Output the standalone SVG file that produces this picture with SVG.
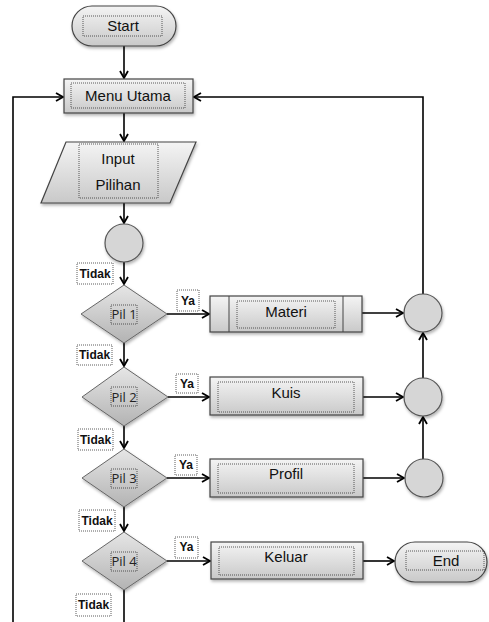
<svg xmlns="http://www.w3.org/2000/svg" width="489" height="622" viewBox="0 0 489 622">
<defs>
<linearGradient id="g" x1="0" y1="0" x2="0" y2="1"><stop offset="0" stop-color="#f4f4f4"/><stop offset="1" stop-color="#c9c9c9"/></linearGradient>
<linearGradient id="gd" x1="0" y1="0" x2="0" y2="1"><stop offset="0" stop-color="#e6e6e6"/><stop offset="1" stop-color="#b3b3b3"/></linearGradient>
<filter id="sh" x="-20%" y="-20%" width="140%" height="150%"><feDropShadow dx="1" dy="2" stdDeviation="1.5" flood-color="#000" flood-opacity="0.3"/></filter>
<marker id="ar" markerWidth="10" markerHeight="10" refX="8" refY="5" orient="auto" markerUnits="userSpaceOnUse"><path d="M1,1 L8,5 L1,9" fill="none" stroke="#000" stroke-width="1.8"/></marker>
</defs>
<style>
.sh{fill:url(#g);stroke:#444;stroke-width:1.2;filter:url(#sh)}
.dm{fill:url(#gd);stroke:#666;stroke-width:1;filter:url(#sh)}
.ci{fill:#d6d6d6;stroke:#555;stroke-width:1.2;filter:url(#sh)}
.in{fill:none;stroke:#333;stroke-width:0.8;stroke-dasharray:1 1}
.lb{fill:#fff;stroke:#333;stroke-width:0.8;stroke-dasharray:1 1}
.t{font-family:"Liberation Sans",Arial,sans-serif;font-size:15px;fill:#111;text-anchor:middle}
.p{font-family:"Open Sans","Liberation Sans",sans-serif;font-size:13px;fill:#222;text-anchor:middle}
.b{font-family:"Liberation Sans",Arial,sans-serif;font-size:12px;font-weight:bold;fill:#111;text-anchor:middle}
.c{fill:none;stroke:#000;stroke-width:1.6}
</style>
<g id="connectors">
<path class="c" d="M124,46 V78" marker-end="url(#ar)"/>
<path class="c" d="M124,113 V141" marker-end="url(#ar)"/>
<path class="c" d="M124,203 V223" marker-end="url(#ar)"/>
<path class="c" d="M124,262 V284" marker-end="url(#ar)"/>
<path class="c" d="M124,343 V366" marker-end="url(#ar)"/>
<path class="c" d="M124,426 V448" marker-end="url(#ar)"/>
<path class="c" d="M124,507 V531" marker-end="url(#ar)"/>
<path class="c" d="M124,590 V622"/>
<path class="c" d="M13,622 V97 H63" marker-end="url(#ar)"/>
<path class="c" d="M167,314 H209" marker-end="url(#ar)"/>
<path class="c" d="M168,397 H209" marker-end="url(#ar)"/>
<path class="c" d="M167,478 H209" marker-end="url(#ar)"/>
<path class="c" d="M167,561 H210" marker-end="url(#ar)"/>
<path class="c" d="M362,313 H403" marker-end="url(#ar)"/>
<path class="c" d="M363,397 H403" marker-end="url(#ar)"/>
<path class="c" d="M363,478 H404" marker-end="url(#ar)"/>
<path class="c" d="M363,561 H394" marker-end="url(#ar)"/>
<path class="c" d="M423,459 V417" marker-end="url(#ar)"/>
<path class="c" d="M423,378 V333" marker-end="url(#ar)"/>
<path class="c" d="M423,294 V97 H194" marker-end="url(#ar)"/>
</g>
<g id="start"><rect class="sh" x="72" y="6" width="104" height="40" rx="20"/><rect class="in" x="83" y="16" width="79" height="20"/><text class="t" x="123" y="31">Start</text></g>
<g id="menu"><rect class="sh" x="64" y="79" width="129" height="34"/><rect class="in" x="71" y="83" width="114" height="25"/><text class="t" x="128" y="101">Menu Utama</text></g>
<g id="input"><polygon class="sh" points="66,142 196,142 170,203 41,203"/><rect class="in" x="79" y="144" width="79" height="54"/><text class="t" x="118" y="164">Input</text><text class="t" x="118" y="190">Pilihan</text></g>
<g id="c0"><circle class="ci" cx="124" cy="243" r="19"/></g>
<g id="pil1"><polygon class="dm" points="124,285 167,314 124,343 81,314"/><rect class="in" x="111" y="305" width="26" height="19"/><text class="p" x="124" y="319">Pil 1</text></g>
<g id="pil2"><polygon class="dm" points="124,367 168,397 124,426 82,397"/><rect class="in" x="111" y="387" width="26" height="19"/><text class="p" x="124" y="402">Pil 2</text></g>
<g id="pil3"><polygon class="dm" points="124,449 167,478 124,507 82,478"/><rect class="in" x="111" y="469" width="26" height="19"/><text class="p" x="124" y="483">Pil 3</text></g>
<g id="pil4"><polygon class="dm" points="124,532 167,561 124,590 82,561"/><rect class="in" x="111" y="552" width="26" height="19"/><text class="p" x="124" y="566">Pil 4</text></g>
<g id="labels">
<rect class="lb" x="77" y="263" width="36" height="21"/><text class="b" x="95" y="278">Tidak</text>
<rect class="lb" x="77" y="345" width="35" height="20"/><text class="b" x="94.5" y="359">Tidak</text>
<rect class="lb" x="78" y="429" width="35" height="21"/><text class="b" x="95.5" y="444">Tidak</text>
<rect class="lb" x="79" y="510" width="36" height="21"/><text class="b" x="97" y="525">Tidak</text>
<rect class="lb" x="76" y="594" width="35" height="22"/><text class="b" x="93.5" y="609">Tidak</text>
<rect class="lb" x="177" y="290" width="22" height="21"/><text class="b" x="188" y="305">Ya</text>
<rect class="lb" x="176" y="374" width="22" height="19"/><text class="b" x="187" y="388">Ya</text>
<rect class="lb" x="175" y="455" width="22" height="20"/><text class="b" x="186" y="469">Ya</text>
<rect class="lb" x="175" y="537" width="23" height="21"/><text class="b" x="186.5" y="551">Ya</text>
</g>
<g id="materi"><rect class="sh" x="210" y="296" width="152" height="36"/><line x1="229" y1="296" x2="229" y2="332" stroke="#444" stroke-width="1"/><line x1="343" y1="296" x2="343" y2="332" stroke="#444" stroke-width="1"/><rect class="in" x="237" y="301" width="98" height="27"/><text class="t" x="286" y="317">Materi</text></g>
<g id="kuis"><rect class="sh" x="210" y="377" width="153" height="38"/><rect class="in" x="218" y="382" width="136" height="30"/><text class="t" x="286" y="398">Kuis</text></g>
<g id="profil"><rect class="sh" x="210" y="459" width="153" height="38"/><rect class="in" x="218" y="464" width="136" height="29"/><text class="t" x="286" y="479">Profil</text></g>
<g id="keluar"><rect class="sh" x="211" y="542" width="152" height="37"/><rect class="in" x="219" y="547" width="135" height="28"/><text class="t" x="286" y="562">Keluar</text></g>
<g id="c1"><circle class="ci" cx="423" cy="313" r="19"/></g>
<g id="c2"><circle class="ci" cx="423" cy="397" r="19"/></g>
<g id="c3"><circle class="ci" cx="424" cy="478" r="19"/></g>
<g id="end"><rect class="sh" x="395" y="542" width="92" height="40" rx="20"/><rect class="in" x="406" y="551" width="78" height="19"/><text class="t" x="446" y="566">End</text></g>
</svg>
